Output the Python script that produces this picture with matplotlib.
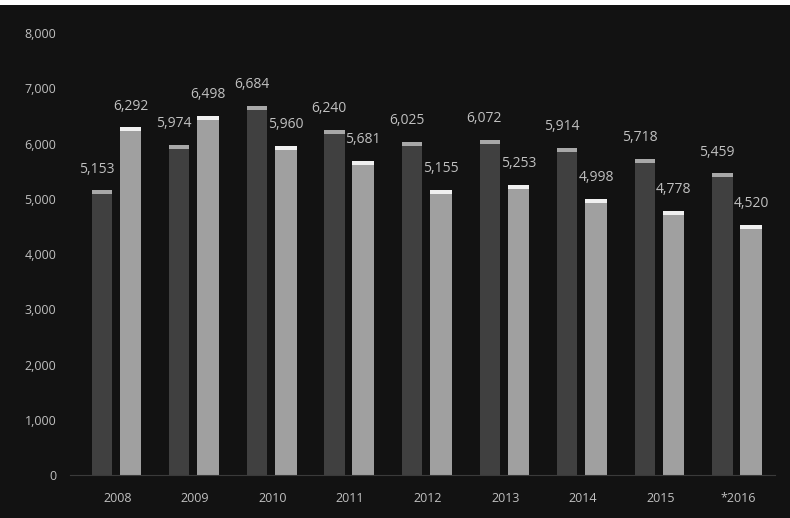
import numpy as np
import matplotlib.pyplot as plt
from matplotlib.patches import Rectangle
from matplotlib.ticker import FuncFormatter

years = ['2008', '2009', '2010', '2011', '2012', '2013', '2014', '2015', '*2016']
dark_vals = [5153, 5974, 6684, 6240, 6025, 6072, 5914, 5718, 5459]
light_vals = [6292, 6498, 5960, 5681, 5155, 5253, 4998, 4778, 4520]
y_ticks = [0, 1000, 2000, 3000, 4000, 5000, 6000, 7000, 8000]

bg = '#121212'
txt = '#c0c0c0'

fig = plt.figure(figsize=(7.9, 5.18), dpi=100)
fig.patch.set_facecolor(bg)
# white strip of paper above the scanned chart
fig.patches.append(Rectangle((0, 0.99), 1, 0.01, transform=fig.transFigure,
                             facecolor='white', edgecolor='none'))

ax = fig.add_axes([0.089, 0.083, 0.892, 0.853])
ax.set_facecolor(bg)

x = np.arange(len(years))
cap = 70

# dark series
ax.bar(x - 0.2, dark_vals, width=0.26, color='#404040', zorder=2)
ax.bar(x - 0.2, [cap] * len(x), bottom=np.array(dark_vals) - cap, width=0.26,
       color='#a8a8a8', zorder=3)
# light series
ax.bar(x + 0.17, light_vals, width=0.28, color='#a0a0a0', zorder=2)
ax.bar(x + 0.17, [cap] * len(x), bottom=np.array(light_vals) - cap, width=0.28,
       color='#f0f0f0', zorder=3)

for xi, v in zip(x, dark_vals):
    ax.annotate('{:,}'.format(v), (xi - 0.27, v), xytext=(0, 10), textcoords='offset points',
                ha='center', va='bottom', color=txt, fontsize=10, family='Open Sans')
for xi, v in zip(x, light_vals):
    ax.annotate('{:,}'.format(v), (xi + 0.17, v), xytext=(0, 10), textcoords='offset points',
                ha='center', va='bottom', color=txt, fontsize=10, family='Open Sans')

ax.set_xlim(-0.606, 8.477)
ax.set_ylim(0, 8000)
ax.set_yticks(y_ticks)
ax.yaxis.set_major_formatter(FuncFormatter(lambda v, p: '{:,.0f}'.format(v)))
ax.set_xticks(x)
ax.set_xticklabels(years)
ax.tick_params(axis='both', length=0, colors=txt, labelsize=9, pad=12)
ax.tick_params(axis='y', pad=10)
for lab in ax.get_xticklabels() + ax.get_yticklabels():
    lab.set_family('Open Sans')

for s in ['top', 'right', 'left']:
    ax.spines[s].set_visible(False)
ax.spines['bottom'].set_color('#3a3a3a')
ax.spines['bottom'].set_linewidth(0.8)

fig.savefig('out.png', dpi=100, facecolor=fig.get_facecolor())
